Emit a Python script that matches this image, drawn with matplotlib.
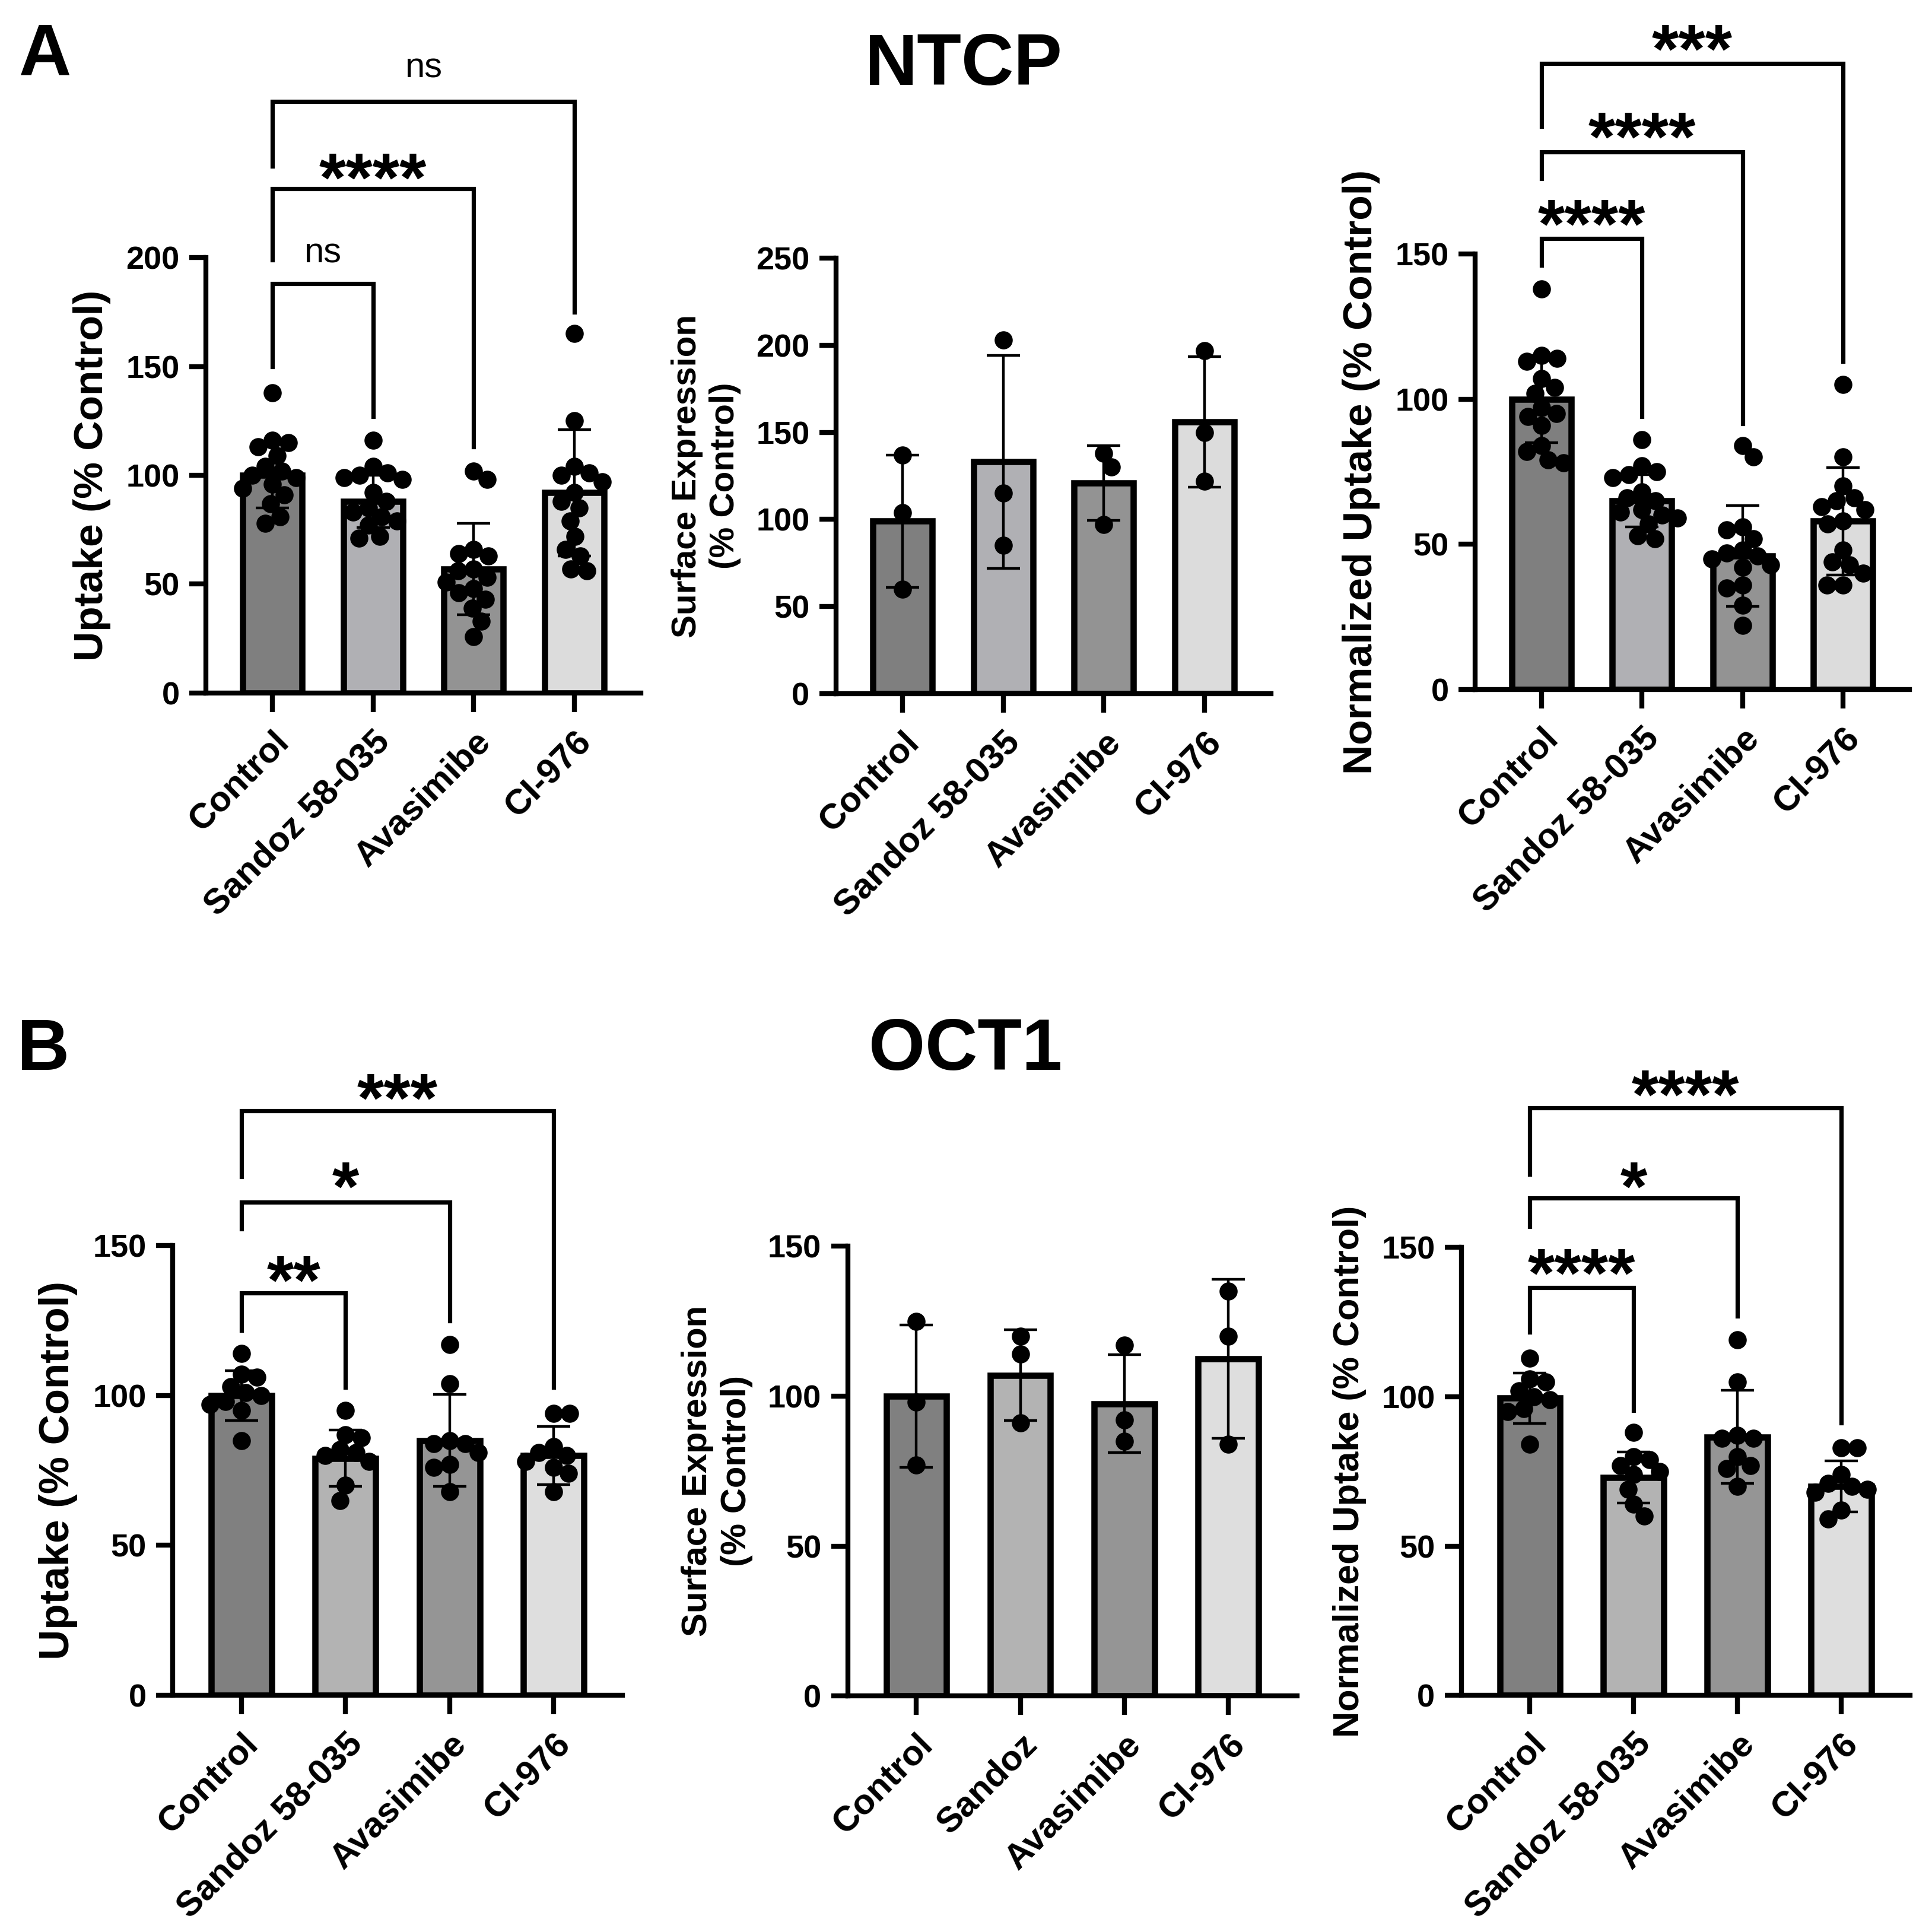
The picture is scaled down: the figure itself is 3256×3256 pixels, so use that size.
import matplotlib
matplotlib.use("Agg")
import matplotlib.pyplot as plt
import numpy as np

plt.rcParams["font.family"] = ["Liberation Sans", "DejaVu Sans"]
plt.rcParams["font.weight"] = "bold"
plt.rcParams["axes.labelweight"] = "bold"

# ---------------- data ----------------
GROUPS = ["Control", "Sandoz 58-035", "Avasimibe", "CI-976"]
GROUPS_B_SURF = ["Control", "Sandoz", "Avasimibe", "CI-976"]

# NTCP uptake
ntcp_uptake_mean = [100, 88, 57, 92]
ntcp_uptake_sd = [15, 12, 21, 29]
ntcp_uptake_pts = [
    [138, 116, 115, 113, 109, 104, 102, 100, 99, 96, 94, 91, 87, 81, 78],
    [116, 104, 101, 100, 99, 98, 92, 88, 85, 83, 81, 79, 77, 72, 71],
    [102, 98, 66, 64, 63, 57, 56, 53, 51, 48, 46, 43, 39, 33, 26],
    [165, 125, 104, 101, 100, 97, 92, 88, 85, 79, 72, 66, 63, 57, 56],
]

# NTCP surface expression
ntcp_surf_mean = [99, 133, 121, 156]
ntcp_surf_sd = [38, 61, 21.5, 37.5]
ntcp_surf_pts = [
    [137, 104, 60],
    [203, 115, 85],
    [138, 130, 97],
    [197, 150, 122],
]

# NTCP normalized uptake
ntcp_norm_mean = [100, 65, 46, 58]
ntcp_norm_sd = [15, 9, 17.3, 18.5]
ntcp_norm_pts = [
    [138, 115, 114, 113, 107, 104, 102, 97, 95, 94, 91, 84, 82, 79, 78],
    [86, 77, 75, 74, 73, 68, 66, 65, 62, 61, 60, 59, 57, 53, 52],
    [84, 80, 56, 55, 52, 48, 47, 46, 45, 43, 42, 36, 35, 29, 22],
    [105, 80, 70, 66, 65, 63, 62, 58, 57, 48, 44, 43, 40, 36, 36],
]

# OCT1 uptake
oct1_uptake_mean = [100, 79, 85, 80]
oct1_uptake_sd = [8.3, 9.4, 15.4, 9.7]
oct1_uptake_pts = [
    [114, 107, 106, 103, 101, 100, 98, 97, 95, 85],
    [95, 87, 86, 82, 81, 80, 78, 70, 65],
    [117, 104, 85, 84, 84, 81, 77, 76, 68],
    [94, 94, 83, 81, 80, 78, 76, 74, 68],
]

# OCT1 surface expression
oct1_surf_mean = [100, 107, 97.5, 112.5]
oct1_surf_sd = [23.8, 15.2, 16.4, 26.5]
oct1_surf_pts = [
    [125, 98, 77],
    [120, 114, 91],
    [117, 92, 85],
    [135, 120, 84],
]

# OCT1 normalized uptake
oct1_norm_mean = [99.5, 73, 86.5, 70]
oct1_norm_sd = [8.5, 8.5, 15.6, 8.5]
oct1_norm_pts = [
    [113, 106, 105, 102, 100, 99, 96, 95, 84],
    [88, 80, 79, 77, 75, 74, 69, 64, 60],
    [119, 105, 87, 86, 86, 80, 77, 76, 70],
    [83, 83, 74, 71, 70, 69, 68, 62, 59],
]

# significance brackets: (group a, group b, label)
ntcp_uptake_sig = [(0, 1, "ns"), (0, 2, "****"), (0, 3, "ns")]
ntcp_norm_sig = [(0, 1, "****"), (0, 2, "****"), (0, 3, "***")]
oct1_uptake_sig = [(0, 1, "**"), (0, 2, "*"), (0, 3, "***")]
oct1_norm_sig = [(0, 1, "****"), (0, 2, "*"), (0, 3, "****")]

COLORS_A = ["#7f7f7f", "#b0b0b4", "#939393", "#dcdcdc"]
COLORS_B = ["#808080", "#b3b3b3", "#959595", "#dedede"]

DPI = 200
MS = 11  # dot size in points


def swarm_x(ax, xc, vals, diam_px):
    """Simple beeswarm: offsets computed in pixel space."""
    vals = np.asarray(vals, dtype=float)
    pix = ax.transData.transform(np.column_stack([np.full(len(vals), xc), vals]))
    x0, ys = pix[0, 0], pix[:, 1]
    placed, xs = [], np.zeros(len(vals))
    flip = 1
    for k in np.argsort(-vals):
        y = ys[k]
        cands = [0.0]
        for px, py in placed:
            dy = y - py
            if abs(dy) < diam_px:
                dx = np.sqrt(diam_px ** 2 - dy ** 2)
                cands += [px + dx, px - dx]
        cands.sort(key=lambda c: (round(abs(c), 3), -flip * c))
        for c in cands:
            if all((c - px) ** 2 + (y - py) ** 2 >= diam_px ** 2 - 1e-6 for px, py in placed):
                break
        if c != 0:
            flip = -flip
        placed.append((c, y))
        xs[k] = c
    back = ax.transData.inverted().transform(np.column_stack([x0 + xs, ys]))
    return back[:, 0]


def bar_panel(fig, rect, means, sds, pts, colors, labels, ylim, yticks, ylabel,
              ylabel_size, width):
    ax = fig.add_axes(rect)
    x = np.arange(len(means))
    ax.set_xlim(-0.66, len(means) - 1 + 0.66)
    ax.set_ylim(*ylim)
    ax.bar(x, means, width=width, color=colors, edgecolor="black", linewidth=3.8, zorder=2)
    ax.errorbar(x, means, yerr=sds, fmt="none", ecolor="black", elinewidth=1.6,
                capsize=10, capthick=1.6, zorder=3)
    diam = MS * DPI / 72 * 0.88
    for i, vals in enumerate(pts):
        xs = swarm_x(ax, x[i], vals, diam)
        ax.scatter(xs, vals, s=MS ** 2, color="black", zorder=4, clip_on=False,
                   linewidths=0)
    ax.set_yticks(yticks)
    ax.set_xticks(x)
    ax.set_xticklabels(labels)
    plt.setp(ax.get_xticklabels(), rotation=45, ha="right", va="top",
             rotation_mode="anchor", fontsize=21.5, fontweight="bold")
    ax.tick_params(axis="y", width=3, length=10, labelsize=19.5, pad=6)
    ax.tick_params(axis="x", width=3, length=11.5, pad=8)
    ax.spines[["top", "right"]].set_visible(False)
    ax.spines["left"].set_linewidth(3)
    ax.spines["bottom"].set_linewidth(3)
    ax.spines["left"].set_bounds(ylim[0], ylim[1])
    ax.set_ylabel(ylabel, fontsize=ylabel_size, fontweight="bold", labelpad=9,
                  linespacing=1.25)
    return ax


def add_brackets(ax, sigs, levels):
    """levels: per bracket (bar height, left leg bottom, right leg bottom, text centre)."""
    for (a, b, lab), (yh, yl, yr, yt) in zip(sigs, levels):
        ax.plot([a, a, b, b], [yl, yh, yh, yr], color="black", lw=2.6,
                clip_on=False, solid_joinstyle="miter", zorder=5)
        if lab == "ns":
            ax.annotate(lab, xy=((a + b) / 2, yt), xytext=(0, -0.26 * 21.5),
                        textcoords="offset points", ha="center", va="baseline",
                        fontsize=21.5, fontweight="normal", annotation_clip=False)
        else:
            ax.annotate(lab, xy=((a + b) / 2, yt), xytext=(0, -0.57 * 42),
                        textcoords="offset points", ha="center", va="baseline",
                        fontsize=42, fontweight="bold", annotation_clip=False)


fig = plt.figure(figsize=(3256 / DPI, 3256 / DPI), dpi=DPI)

# ---- row A: NTCP ----
a1 = bar_panel(fig, [0.1066, 0.6413, 0.2251, 0.2254], ntcp_uptake_mean, ntcp_uptake_sd,
               ntcp_uptake_pts, COLORS_A, GROUPS, (0, 200), [0, 50, 100, 150, 200],
               "Uptake (% Control)", 25, 0.59)
add_brackets(a1, ntcp_uptake_sig,
             [(188, 150, 127, 202), (231.5, 199, 113, 244), (271.7, 242, 175, 287)])

a2 = bar_panel(fig, [0.4327, 0.6410, 0.2252, 0.2254], ntcp_surf_mean, ntcp_surf_sd,
               ntcp_surf_pts, COLORS_A, GROUPS, (0, 250), [0, 50, 100, 150, 200, 250],
               "Surface Expression\n(% Control)", 21, 0.59)

a3 = bar_panel(fig, [0.7635, 0.6431, 0.2248, 0.2255], ntcp_norm_mean, ntcp_norm_sd,
               ntcp_norm_pts, COLORS_A, GROUPS, (0, 150), [0, 50, 100, 150],
               "Normalized Uptake (% Control)", 25, 0.59)
add_brackets(a3, ntcp_norm_sig,
             [(155.2, 146, 94, 165.8), (185.2, 176, 91.6, 195.8), (215.5, 193.8, 112.9, 226)])

# ---- row B: OCT1 ----
b1 = bar_panel(fig, [0.0894, 0.1225, 0.2328, 0.2328], oct1_uptake_mean, oct1_uptake_sd,
               oct1_uptake_pts, COLORS_B, GROUPS, (0, 150), [0, 50, 100, 150],
               "Uptake (% Control)", 25.5, 0.58)
add_brackets(b1, oct1_uptake_sig,
             [(134.2, 121.7, 102.8, 143.7), (164.5, 155.5, 124.9, 175), (194.9, 172.9, 102.8, 204.4)])

b2 = bar_panel(fig, [0.4388, 0.1222, 0.2325, 0.2327], oct1_surf_mean, oct1_surf_sd,
               oct1_surf_pts, COLORS_B, GROUPS_B_SURF, (0, 150), [0, 50, 100, 150],
               "Surface Expression\n(% Control)", 21.5, 0.58)

b3 = bar_panel(fig, [0.7564, 0.1225, 0.2321, 0.2318], oct1_norm_mean, oct1_norm_sd,
               oct1_norm_pts, COLORS_B, GROUPS, (0, 150), [0, 50, 100, 150],
               "Normalized Uptake (% Control)", 22, 0.58)
add_brackets(b3, oct1_norm_sig,
             [(136.6, 121.6, 95.5, 146.8), (166.6, 157.1, 127.1, 175.7), (196.7, 174.6, 91.2, 206.5)])

# panel letters and titles
fig.text(0.0097, 0.961, "A", fontsize=44, fontweight="bold", va="baseline")
fig.text(0.0089, 0.4462, "B", fontsize=44, fontweight="bold", va="baseline")
fig.text(0.499, 0.956, "NTCP", fontsize=44, fontweight="bold", ha="center", va="baseline")
fig.text(0.4998, 0.4462, "OCT1", fontsize=44, fontweight="bold", ha="center", va="baseline")

fig.savefig("out.png", dpi=DPI, facecolor="white")
